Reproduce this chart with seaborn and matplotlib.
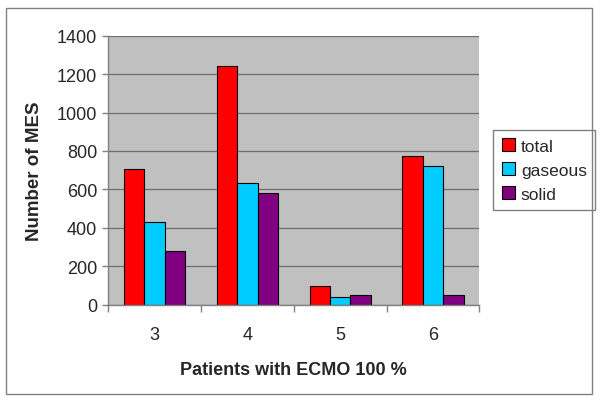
import numpy as np
import pandas as pd
import matplotlib.pyplot as plt
import seaborn as sns
from matplotlib.patches import Rectangle

patients = ["3", "4", "5", "6"]
total = [705, 1241, 96, 774]
gaseous = [429, 632, 40, 723]
solid = [278, 583, 52, 52]
series_names = ["total", "gaseous", "solid"]
colors = ["#FF0000", "#00CCFF", "#800080"]

df = pd.DataFrame({
    "patient": patients * 3,
    "series": np.repeat(series_names, len(patients)),
    "value": total + gaseous + solid,
})

sns.set_theme(style="white")
plt.rcParams["font.family"] = ["Liberation Sans", "DejaVu Sans"]

fig = plt.figure(figsize=(6, 4.02), dpi=100)
ax = fig.add_axes([0.1805, 0.2396, 0.6185, 0.6691])

sns.barplot(data=df, x="patient", y="value", hue="series", order=patients,
            hue_order=series_names, palette=colors, width=0.66,
            edgecolor="black", linewidth=0.8, saturation=1, ax=ax)

ax.set_facecolor("#C0C0C0")
ax.set_ylim(0, 1400)
ax.set_xlim(-0.5, 3.5)
ax.set_yticks(range(0, 1401, 200))
ax.yaxis.grid(True, color="#6E6E6E", linewidth=0.9)
ax.set_axisbelow(True)

for side in ["top", "right"]:
    ax.spines[side].set_visible(False)
for side in ["left", "bottom"]:
    ax.spines[side].set_color("#808080")
    ax.spines[side].set_linewidth(1)

ax.tick_params(axis="y", which="major", left=True, length=4, width=1,
               color="#808080", labelsize=13, pad=4)
ax.tick_params(axis="x", which="major", bottom=False, length=0,
               labelsize=13, pad=15)
ax.set_xticks(np.arange(-0.5, 3.6, 1), minor=True)
ax.tick_params(axis="x", which="minor", bottom=True, length=5, width=1,
               color="#808080")

ax.set_xlabel("Patients with ECMO 100 %", fontsize=13, fontweight="bold",
              labelpad=13)
ax.set_ylabel("Number of MES", fontsize=13.5, fontweight="bold", labelpad=10)

ax.legend(loc="center left", bbox_to_anchor=(493 / 600, 1 - 171 / 402),
          bbox_transform=fig.transFigure, borderaxespad=0, fontsize=12.5,
          frameon=True, fancybox=False, edgecolor="#808080", framealpha=1,
          handlelength=0.75, handleheight=0.75, handletextpad=0.35,
          borderpad=0.5, labelspacing=0.5, title=None)

fig.patches.append(Rectangle((6 / 600, 1 - 395 / 402), 586 / 600, 386 / 402,
                             transform=fig.transFigure, fill=False,
                             edgecolor="#808080", linewidth=1))

fig.savefig("out.png", dpi=100, facecolor="white")
